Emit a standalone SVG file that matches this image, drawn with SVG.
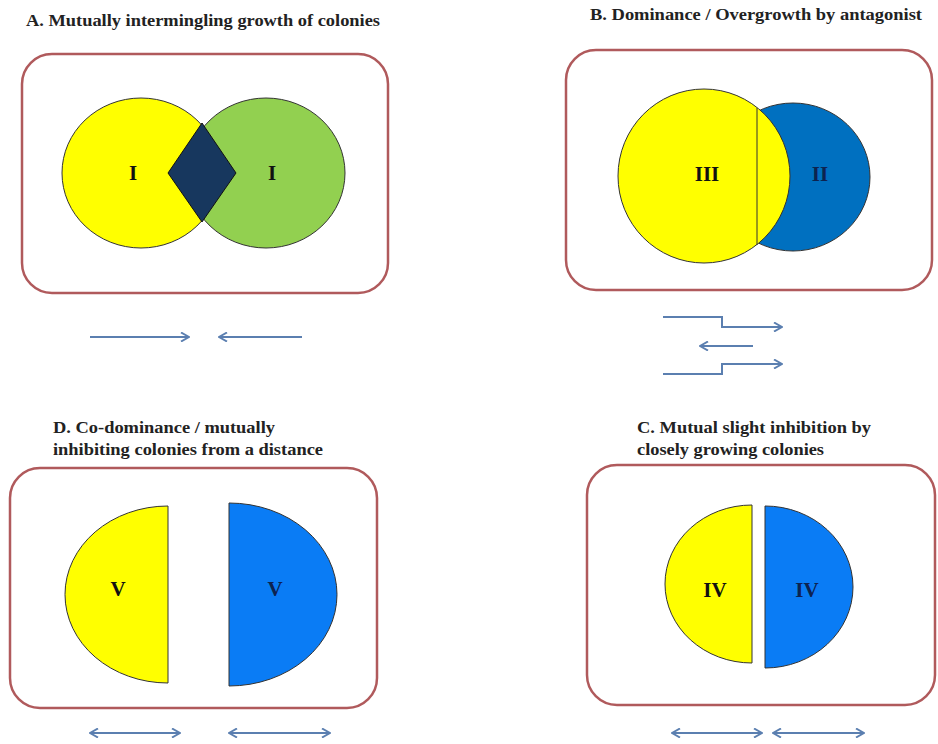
<svg xmlns="http://www.w3.org/2000/svg" width="938" height="744" viewBox="0 0 938 744">
<defs>
<style>
.title{font-family:"Liberation Serif","Times New Roman",serif;font-weight:bold;font-size:16px;fill:#222}
.lbl{font-family:"Liberation Serif","Times New Roman",serif;font-weight:bold;font-size:21px;fill:#111;text-anchor:middle;dominant-baseline:central}
.lbln{fill:#0d2350}
.box{fill:#fff;stroke:#b05a5c;stroke-width:2.5}
.col{stroke:#333;stroke-width:1}
.arr{fill:none;stroke:#5b7fb0;stroke-width:2}
</style>
<marker id="ah" viewBox="0 0 10 10" refX="9" refY="5" markerWidth="10" markerHeight="10" markerUnits="userSpaceOnUse" orient="auto-start-reverse">
<path d="M1,0.5 L9,5 L1,9.5" fill="none" stroke="#5b7fb0" stroke-width="2"/>
</marker>
</defs>
<rect width="938" height="744" fill="#fff"/>

<g id="panelA">
<text class="title" x="26" y="26" textLength="354" lengthAdjust="spacingAndGlyphs">A. Mutually intermingling growth of colonies</text>
<rect class="box" x="22" y="54" width="366" height="239" rx="30"/>
<ellipse class="col" cx="141" cy="173" rx="79" ry="75" fill="#ffff00"/>
<ellipse class="col" cx="266" cy="173" rx="79" ry="75" fill="#92d050"/>
<polygon points="168,173 202,123 236,173 202,222" fill="#17375e" stroke="#111" stroke-width="1"/>
<text class="lbl" x="133" y="173">I</text>
<text class="lbl" x="272" y="173">I</text>
</g>

<g id="panelB">
<text class="title" x="590" y="20" textLength="332" lengthAdjust="spacingAndGlyphs">B. Dominance / Overgrowth by antagonist</text>
<rect class="box" x="566" y="50" width="366" height="240" rx="30"/>
<ellipse class="col" cx="793" cy="177" rx="77" ry="74" fill="#0070c0"/>
<ellipse class="col" cx="704" cy="176" rx="86" ry="87" fill="#ffff00"/>
<line x1="757" y1="108" x2="757" y2="245" stroke="#333" stroke-width="1"/>
<text class="lbl" x="707" y="174">III</text>
<text class="lbl lbln" x="820" y="174">II</text>
</g>

<g id="panelD">
<text class="title" x="53" y="433" textLength="222" lengthAdjust="spacingAndGlyphs">D. Co-dominance / mutually</text>
<text class="title" x="53" y="455" textLength="270" lengthAdjust="spacingAndGlyphs">inhibiting colonies from a distance</text>
<rect class="box" x="10" y="468" width="367" height="240" rx="30"/>
<path class="col" d="M168,506 A103,88.5 0 0 0 168,683 Z" fill="#ffff00"/>
<path class="col" d="M229,503 A108,91.5 0 0 1 229,686 Z" fill="#0a7cf5"/>
<text class="lbl" x="118" y="589">V</text>
<text class="lbl lbln" x="275" y="589">V</text>
</g>

<g id="panelC">
<text class="title" x="637" y="433" textLength="234" lengthAdjust="spacingAndGlyphs">C. Mutual slight inhibition by</text>
<text class="title" x="637" y="455" textLength="187" lengthAdjust="spacingAndGlyphs">closely growing colonies</text>
<rect class="box" x="587" y="465" width="348" height="240" rx="30"/>
<path class="col" d="M752,505 A87,79 0 0 0 752,663 Z" fill="#ffff00"/>
<path class="col" d="M765,506 A88,81 0 0 1 765,668 Z" fill="#0a7cf5"/>
<text class="lbl" x="715" y="590">IV</text>
<text class="lbl lbln" x="807" y="590">IV</text>
</g>

<g id="connectors">
<line class="arr" x1="90" y1="337" x2="189" y2="337" marker-end="url(#ah)"/>
<line class="arr" x1="302" y1="337" x2="219" y2="337" marker-end="url(#ah)"/>
<polyline class="arr" points="663,317 722,317 722,327 782,327" marker-end="url(#ah)"/>
<line class="arr" x1="753" y1="346" x2="700" y2="346" marker-end="url(#ah)"/>
<polyline class="arr" points="663,374 722,374 722,364 782,364" marker-end="url(#ah)"/>
<line class="arr" x1="90" y1="733" x2="180" y2="733" marker-start="url(#ah)" marker-end="url(#ah)"/>
<line class="arr" x1="229" y1="733" x2="330" y2="733" marker-start="url(#ah)" marker-end="url(#ah)"/>
<line class="arr" x1="672" y1="733" x2="762" y2="733" marker-start="url(#ah)" marker-end="url(#ah)"/>
<line class="arr" x1="773" y1="733" x2="864" y2="733" marker-start="url(#ah)" marker-end="url(#ah)"/>
</g>
</svg>
